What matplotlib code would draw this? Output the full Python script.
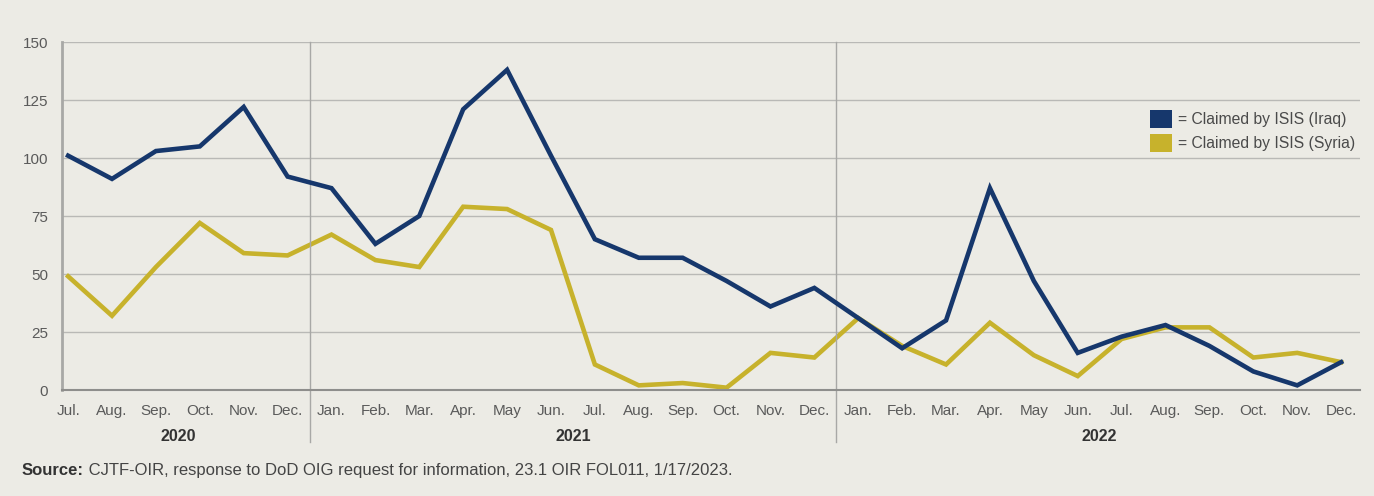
import matplotlib.pyplot as plt
from matplotlib.patches import Patch
import numpy as np

plt.rcParams['font.family'] = ['Liberation Sans Narrow', 'Liberation Sans', 'DejaVu Sans']

months = ['Jul.', 'Aug.', 'Sep.', 'Oct.', 'Nov.', 'Dec.',
          'Jan.', 'Feb.', 'Mar.', 'Apr.', 'May', 'Jun.', 'Jul.', 'Aug.', 'Sep.', 'Oct.', 'Nov.', 'Dec.',
          'Jan.', 'Feb.', 'Mar.', 'Apr.', 'May', 'Jun.', 'Jul.', 'Aug.', 'Sep.', 'Oct.', 'Nov.', 'Dec.']
years = ['2020', '2021', '2022']
year_centers = [2.5, 11.5, 23.5]
year_breaks = [5.5, 17.5]

iraq = [101, 91, 103, 105, 122, 92,
        87, 63, 75, 121, 138, 101, 65, 57, 57, 47, 36, 44,
        31, 18, 30, 87, 47, 16, 23, 28, 19, 8, 2, 12]
syria = [49, 32, 53, 72, 59, 58,
         67, 56, 53, 79, 78, 69, 11, 2, 3, 1, 16, 14,
         31, 19, 11, 29, 15, 6, 22, 27, 27, 14, 16, 12]

bg = '#ecebe5'
blue = '#16376c'
gold = '#c7b22c'
grid = '#b9b9b6'

fig = plt.figure(figsize=(13.74, 4.96), dpi=100, facecolor=bg)
ax = fig.add_axes([0.0451, 0.2137, 0.9447, 0.7016], facecolor=bg)

x = np.arange(len(months))
ax.plot(x, iraq, color=blue, lw=3.3, solid_joinstyle='miter', zorder=3)
ax.plot(x, syria, color=gold, lw=3.3, solid_joinstyle='miter', zorder=2)

ax.set_xlim(-0.14, 29.43)
ax.set_ylim(0, 150)
ax.set_yticks(range(0, 151, 25))
ax.yaxis.grid(True, color=grid, lw=1)
ax.set_axisbelow(True)

for s in ['top', 'right']:
    ax.spines[s].set_visible(False)
ax.spines['left'].set_color('#a8a8a6')
ax.spines['left'].set_linewidth(2)
ax.spines['bottom'].set_color('#8e8e8c')
ax.spines['bottom'].set_linewidth(1.5)

ax.set_xticks(x)
ax.set_xticklabels(months)
ax.tick_params(axis='both', length=0, labelsize=11, colors='#5a5a5a', pad=10)

# year separators running below the axis
for b in year_breaks:
    ax.plot([b, b], [-0.15, 1.0], transform=ax.get_xaxis_transform(), color='#a8a8a6', lw=1, clip_on=False)
for c, yr in zip(year_centers, years):
    ax.text(c, -0.135, yr, transform=ax.get_xaxis_transform(), ha='center', va='center',
            fontsize=11.5, fontweight='bold', color='#333333')

handles = [Patch(facecolor=blue, label='= Claimed by ISIS (Iraq)'),
           Patch(facecolor=gold, label='= Claimed by ISIS (Syria)')]
leg = ax.legend(handles=handles, loc='upper right', bbox_to_anchor=(1.007, 0.845), frameon=False, fontsize=11.3,
                handlelength=1.4, handleheight=1.4, handletextpad=0.35, labelspacing=0.35)
for t in leg.get_texts():
    t.set_color('#4a4a4a')

# source line: bold label followed by regular text
src = fig.text(0.016, 0.052, 'Source:', fontsize=12, fontweight='bold', color='#333333', va='center')
ax.annotate(' CJTF-OIR, response to DoD OIG request for information, 23.1 OIR FOL011, 1/17/2023.',
            xy=(1, 0.5), xycoords=src, va='center', ha='left', fontsize=12, color='#444444')

fig.savefig('out.png', dpi=100, facecolor=bg)
